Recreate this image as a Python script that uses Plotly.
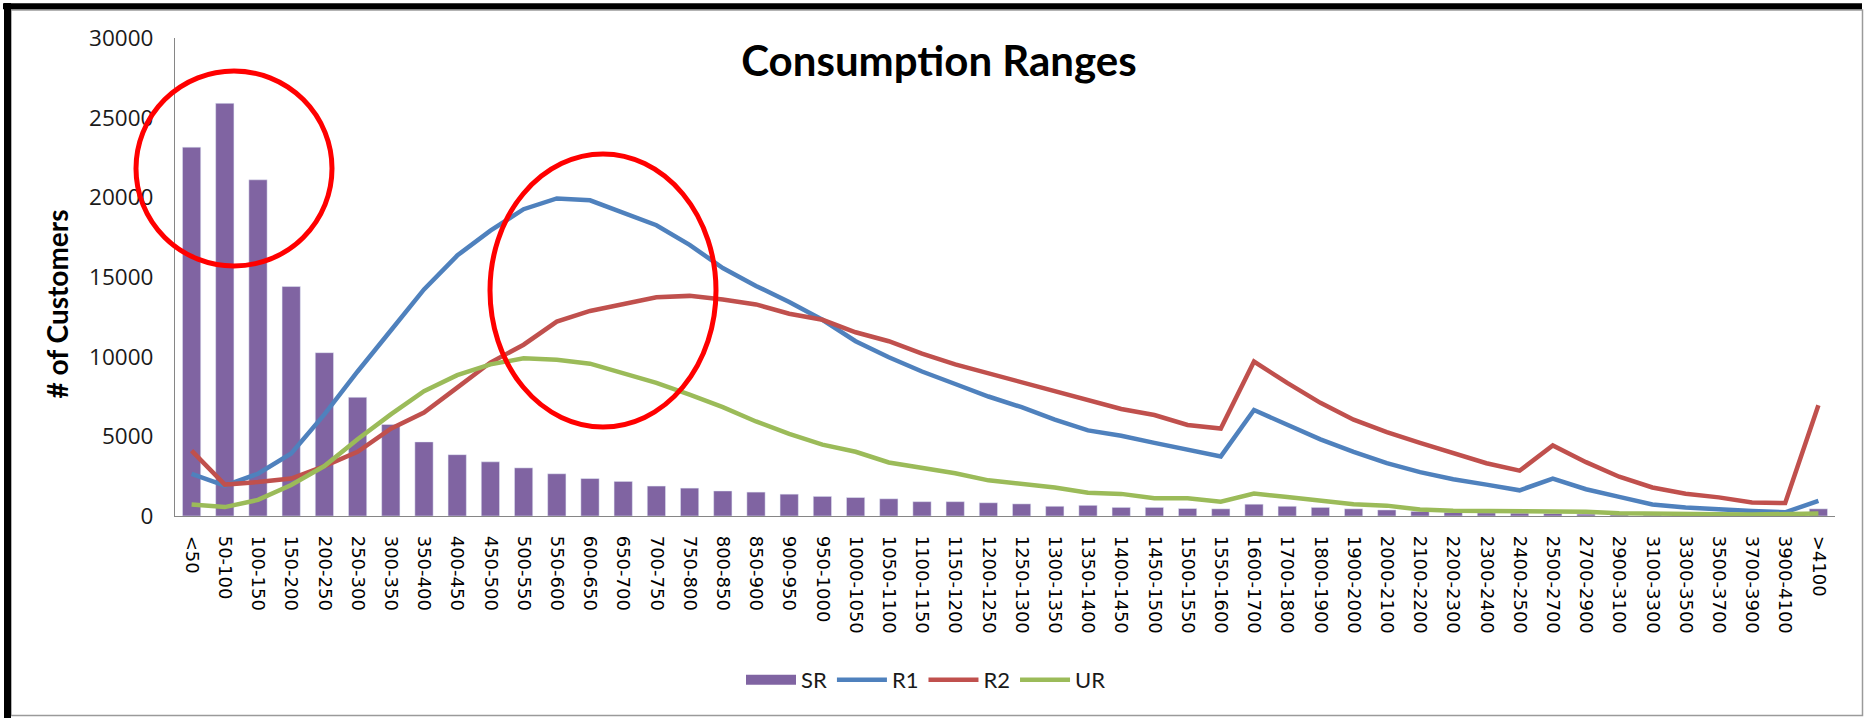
import plotly.graph_objects as go

categories = ["<50", "50-100", "100-150", "150-200", "200-250", "250-300", "300-350", "350-400",
              "400-450", "450-500", "500-550", "550-600", "600-650", "650-700", "700-750", "750-800",
              "800-850", "850-900", "900-950", "950-1000", "1000-1050", "1050-1100", "1100-1150",
              "1150-1200", "1200-1250", "1250-1300", "1300-1350", "1350-1400", "1400-1450",
              "1450-1500", "1500-1550", "1550-1600", "1600-1700", "1700-1800", "1800-1900",
              "1900-2000", "2000-2100", "2100-2200", "2200-2300", "2300-2400", "2400-2500",
              "2500-2700", "2700-2900", "2900-3100", "3100-3300", "3300-3500", "3500-3700",
              "3700-3900", "3900-4100", ">4100"]

sr = [23150, 25900, 21100, 14400, 10250, 7450, 5750, 4650, 3850, 3400, 3020, 2650, 2350, 2170,
      1880, 1750, 1570, 1500, 1370, 1230, 1160, 1080, 900, 900, 830, 760, 610, 670, 540, 540,
      470, 450, 740, 610, 540, 450, 380, 290, 230, 200, 180, 160, 120, 80, 60, 50, 40, 30, 20, 450]

r1 = [2640, 1900, 2650, 3920, 6380, 9070, 11640, 14220, 16345, 17910, 19255, 19930, 19815, 19030,
      18250, 17016, 15560, 14440, 13430, 12315, 10970, 9964, 9068, 8284, 7500, 6830, 6045, 5374,
      5038, 4590, 4142, 3740, 6650, 5710, 4814, 4030, 3314, 2754, 2306, 1970, 1612, 2351, 1679,
      1200, 720, 530, 390, 320, 230, 950]

r2 = [4100, 1970, 2130, 2350, 3135, 4030, 5485, 6490, 8060, 9630, 10750, 12200, 12870, 13320,
      13725, 13815, 13590, 13280, 12695, 12315, 11530, 10970, 10190, 9515, 8956, 8396, 7770, 7277,
      6717, 6336, 5710, 5485, 9695, 8350, 7100, 6045, 5262, 4590, 3918, 3314, 2844, 4433, 3380,
      2463, 1791, 1400, 1170, 850, 810, 6950]

ur = [716, 560, 1010, 1950, 3135, 4815, 6380, 7836, 8840, 9515, 9895, 9805, 9560, 8956, 8350,
      7613, 6830, 5934, 5150, 4478, 4030, 3358, 3023, 2687, 2239, 2015, 1791, 1455, 1388, 1120,
      1120, 896, 1410, 1187, 963, 739, 650, 403, 336, 336, 269, 336, 269, 180, 134, 112, 112, 90,
      90, 157]

y_ticks = [0, 5000, 10000, 15000, 20000, 25000, 30000]

W, H = 1864, 718
L, R, T, B = 175, 29, 38, 202
PW, PH = W - L - R, H - T - B


def px(x):
    return (x - L) / PW


def py(y):
    return (H - B - y) / PH


C_SR, C_R1, C_R2, C_UR = "#8064A2", "#4F81BD", "#C0504D", "#9BBB59"

fig = go.Figure()
fig.add_trace(go.Bar(x=categories, y=sr, name="SR", marker_color=C_SR, showlegend=False,
                     legendgroup="SR"))
fig.add_trace(go.Scatter(x=[None], y=[None], mode="lines", name="SR", legendgroup="SR",
                         line=dict(color=C_SR, width=13)))
for name, vals, col in [("R1", r1, C_R1), ("R2", r2, C_R2), ("UR", ur, C_UR)]:
    fig.add_trace(go.Scatter(x=categories, y=vals, name=name, mode="lines",
                             line=dict(color=col, width=4.5)))

shapes = [
    # red highlight ellipses
    dict(type="circle", xref="paper", yref="paper", x0=px(136), x1=px(332), y0=py(266), y1=py(71),
         line=dict(color="#FF0000", width=5), layer="above"),
    dict(type="circle", xref="paper", yref="paper", x0=px(490), x1=px(716), y0=py(427), y1=py(154),
         line=dict(color="#FF0000", width=5), layer="above"),
    # outer frame
    dict(type="rect", xref="paper", yref="paper", x0=px(11), x1=px(1862.5), y0=py(715.5), y1=py(10),
         line=dict(color="#9a9a9a", width=1.5)),
    dict(type="line", xref="paper", yref="paper", x0=px(3), x1=px(1862), y0=py(6.3), y1=py(6.3),
         line=dict(color="black", width=6)),
    dict(type="line", xref="paper", yref="paper", x0=px(7.5), x1=px(7.5), y0=py(3), y1=py(718),
         line=dict(color="black", width=7)),
]

fig.update_layout(
    width=W, height=H,
    margin=dict(l=L, r=R, t=T, b=B, autoexpand=False),
    paper_bgcolor="white", plot_bgcolor="white",
    bargap=0.45,
    title=dict(text="<b>Consumption Ranges</b>", x=939 / W, xref="container", y=1 - 61.5 / H,
               yref="container", xanchor="center", yanchor="middle",
               font=dict(family="Lato", size=42, color="black")),
    legend=dict(orientation="h", x=px(926), xanchor="center", y=py(680), yanchor="middle",
                itemwidth=50, font=dict(family="Lato", size=22, color="#1a1a1a"),
                bgcolor="rgba(0,0,0,0)"),
    shapes=shapes,
    annotations=[dict(text="<b># of Customers</b>", xref="paper", yref="paper",
                      x=px(56.5), y=py(304), xanchor="center", yanchor="middle", textangle=-90,
                      showarrow=False, font=dict(family="Lato", size=28, color="black"))],
    xaxis=dict(type="category", showgrid=False, showline=True, linecolor="#868686", linewidth=1.2,
               ticks="", tickangle=90, ticklabelstandoff=15,
               tickfont=dict(family="DejaVu Sans", size=18, color="#000000"),
               range=[-0.5, len(categories) - 0.5]),
    yaxis=dict(range=[0, 30000], tickvals=y_ticks, ticktext=[str(v) for v in y_ticks],
               showgrid=False, zeroline=False, showline=True, linecolor="#868686", linewidth=1.2,
               ticks="", ticklabelstandoff=16,
               tickfont=dict(family="Open Sans", size=22.5, color="#1a1a1a")),
)

fig.write_html("out.html", config={"displayModeBar": False},
               post_script="document.body.style.margin='0';")
